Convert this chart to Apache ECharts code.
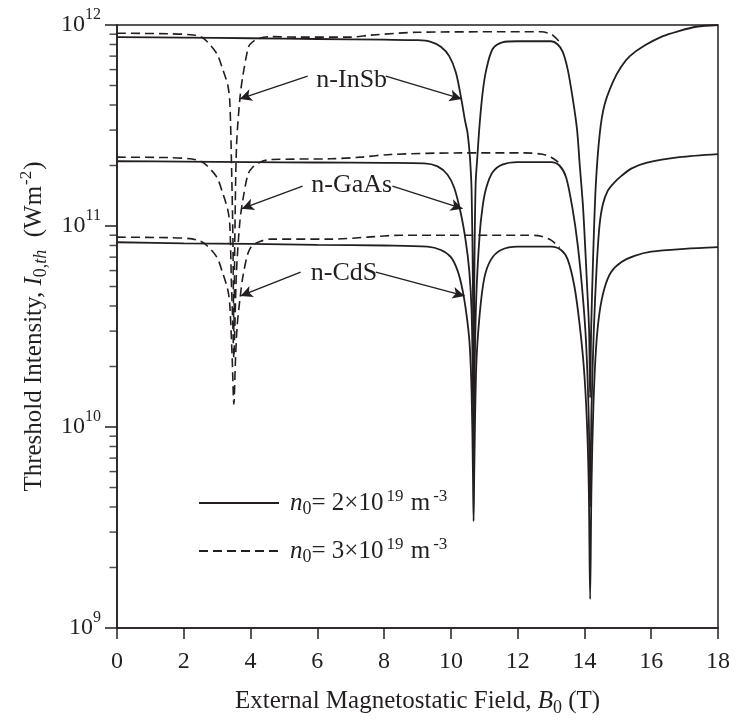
<!DOCTYPE html>
<html>
<head>
<meta charset="utf-8">
<title>Threshold intensity vs magnetostatic field</title>
<script src="https://cdn.jsdelivr.net/npm/echarts@6/dist/echarts.min.js"></script>
<style>
  html, body { margin: 0; padding: 0; background: #fff; }
  #main { width: 735px; height: 722px; }
</style>
</head>
<body>
<div id="main"></div>
<script>
// ---- data: [B0 (T), I0,th (W m^-2)] ----
var insbSolid = [
  [0, 8.71e11], [2, 8.65e11], [4, 8.59e11], [6, 8.52e11], [8, 8.45e11], [9, 8.4e11],
  [9.4, 8.25e11], [9.7, 7.8e11], [9.95, 7.0e11], [10.15, 5.8e11], [10.31, 4.3e11],
  [10.43, 3.3e11], [10.5, 2.9e11], [10.57, 2.2e11], [10.62, 1.5e11], [10.66, 5e10],
  [10.68, 1.1e10], [10.7, 5e10], [10.74, 1.6e11], [10.8, 2.3e11], [10.86, 3.2e11],
  [10.95, 4.6e11], [11.06, 6.0e11], [11.25, 7.6e11], [11.54, 8.2e11], [12, 8.3e11],
  [13, 8.3e11], [13.2, 8.0e11], [13.35, 7.35e11], [13.5, 6.0e11], [13.65, 4.3e11],
  [13.78, 3.0e11], [13.86, 2.0e11], [13.95, 1.3e11], [14.0, 9.3e10], [14.08, 5e10],
  [14.14, 3e10], [14.17, 1.4e10], [14.2, 3e10], [14.26, 7e10], [14.34, 1.6e11],
  [14.46, 2.9e11], [14.6, 4e11], [14.85, 5.2e11], [15.1, 6.2e11], [15.36, 7.0e11],
  [15.8, 7.9e11], [16.35, 8.8e11], [16.8, 9.3e11], [17.35, 9.8e11], [18, 1e12]
];
var gaasSolid = [
  [0, 2.1e11], [2, 2.09e11], [4, 2.08e11], [6, 2.07e11], [8, 2.06e11], [9.2, 2.05e11],
  [9.6, 1.98e11], [9.9, 1.8e11], [10.1, 1.55e11], [10.3, 1.15e11], [10.45, 8.3e10],
  [10.55, 6e10], [10.62, 3.8e10], [10.66, 1.5e10], [10.68, 6e9], [10.7, 1.5e10],
  [10.76, 4.4e10], [10.86, 9e10], [10.95, 1.25e11], [11.06, 1.55e11], [11.25, 1.85e11],
  [11.54, 2.02e11], [12, 2.08e11], [13, 2.08e11], [13.25, 2.0e11], [13.45, 1.75e11],
  [13.65, 1.2e11], [13.8, 8e10], [13.95, 4.5e10], [14.05, 2.6e10], [14.13, 1.1e10],
  [14.17, 4e9], [14.21, 1.2e10], [14.28, 3e10], [14.36, 6e10], [14.45, 1.0e11],
  [14.55, 1.28e11], [14.7, 1.5e11], [14.9, 1.65e11], [15.1, 1.77e11], [15.4, 1.93e11],
  [15.85, 2.06e11], [16.84, 2.2e11], [18, 2.28e11]
];
var cdsSolid = [
  [0, 8.3e10], [2, 8.2e10], [4, 8.15e10], [6, 8.05e10], [8, 8.0e10], [9.3, 7.9e10],
  [9.7, 7.6e10], [10.0, 7.0e10], [10.2, 6.0e10], [10.35, 4.8e10], [10.47, 3.6e10],
  [10.56, 2.6e10], [10.62, 1.5e10], [10.66, 6e9], [10.68, 3.4e9], [10.7, 6e9],
  [10.76, 2e10], [10.86, 3.6e10], [11.0, 5.5e10], [11.2, 6.8e10], [11.5, 7.6e10],
  [12, 7.9e10], [13, 7.9e10], [13.3, 7.6e10], [13.5, 6.8e10], [13.7, 5.0e10],
  [13.85, 3.3e10], [13.98, 2.0e10], [14.07, 1.1e10], [14.13, 5e9], [14.17, 1.39e9],
  [14.21, 5e9], [14.27, 1.3e10], [14.35, 2.5e10], [14.45, 3.7e10], [14.6, 4.9e10],
  [14.8, 5.9e10], [15.1, 6.6e10], [15.5, 7.1e10], [16, 7.45e10], [17, 7.7e10],
  [18, 7.85e10]
];
var insbDash = [
  [0, 9.1e11], [1.5, 9.05e11], [2.2, 8.95e11], [2.5, 8.75e11], [2.69, 8.3e11],
  [2.99, 7.2e11], [3.17, 6.0e11], [3.32, 5.0e11], [3.38, 4.1e11], [3.43, 2e11],
  [3.47, 9e10], [3.5, 3e10], [3.53, 9e10], [3.58, 2.5e11], [3.68, 4.3e11],
  [3.77, 5.6e11], [3.92, 7.6e11], [3.98, 8.0e11], [4.19, 8.5e11], [4.58, 8.75e11],
  [5.5, 8.7e11], [7.0, 8.7e11], [7.6, 8.9e11], [9, 9.2e11], [11.5, 9.25e11],
  [12.7, 9.25e11], [13.0, 9.0e11], [13.15, 8.6e11], [13.26, 8.2e11]
];
var gaasDash = [
  [0, 2.2e11], [1.5, 2.19e11], [2.2, 2.16e11], [2.5, 2.1e11], [2.69, 2.0e11],
  [2.99, 1.75e11], [3.17, 1.45e11], [3.32, 1.2e11], [3.38, 1.0e11], [3.43, 5e10],
  [3.47, 3.2e10], [3.5, 2.2e10], [3.53, 3.2e10], [3.58, 6e10], [3.68, 1.05e11],
  [3.77, 1.35e11], [3.92, 1.8e11], [4.05, 1.95e11], [4.3, 2.08e11], [4.6, 2.14e11],
  [6.4, 2.16e11], [7.3, 2.2e11], [8.2, 2.27e11], [10.3, 2.31e11], [12.2, 2.31e11],
  [12.7, 2.28e11], [13.0, 2.2e11], [13.26, 2.05e11]
];
var cdsDash = [
  [0, 8.8e10], [1.5, 8.75e10], [2.2, 8.65e10], [2.5, 8.4e10], [2.69, 8.0e10],
  [2.99, 7.0e10], [3.17, 5.8e10], [3.32, 4.8e10], [3.38, 4.0e10], [3.45, 2.2e10],
  [3.5, 1.3e10], [3.55, 2.2e10], [3.6, 3.2e10], [3.68, 4.3e10], [3.77, 5.6e10],
  [3.92, 7.3e10], [4.05, 8.0e10], [4.3, 8.4e10], [4.6, 8.6e10], [6.4, 8.6e10],
  [7.5, 8.8e10], [8.5, 9.0e10], [12.2, 9.0e10], [12.7, 8.9e10], [13.0, 8.5e10],
  [13.26, 7.8e10]
];
// minor ticks on the log axis (2..9 of each decade)
var minorTicks = [
  2e9, 3e9, 4e9, 5e9, 6e9, 7e9, 8e9, 9e9,
  2e10, 3e10, 4e10, 5e10, 6e10, 7e10, 8e10, 9e10,
  2e11, 3e11, 4e11, 5e11, 6e11, 7e11, 8e11, 9e11
];
// annotation labels and arrows [from, to]
var materials = ['n-InSb', 'n-GaAs', 'n-CdS'];
var labelPos = [[7.03, 5.3e11], [7.03, 1.6e11], [6.8, 5.85e10]];
var arrows = [
  [[5.71, 5.57e11], [3.68, 4.29e11]], [[8.05, 5.57e11], [10.32, 4.29e11]],
  [[5.56, 1.58e11], [3.74, 1.22e11]], [[8.25, 1.58e11], [10.35, 1.22e11]],
  [[5.5, 5.9e10], [3.7, 4.49e10]], [[7.75, 5.9e10], [10.41, 4.49e10]]
];
var nameA = 'n0 = 2e19';
var nameB = 'n0 = 3e19';

var ink = '#231f20';
var serif = 'Liberation Serif';

var myChart = echarts.init(document.getElementById('main'));

function solid(data) {
  return {
    name: nameA, type: 'line', data: data, symbol: 'none', smooth: 0.3,
    lineStyle: { color: ink, width: 1.8, type: 'solid' }, itemStyle: { color: ink }, z: 3
  };
}
function dashed(data) {
  return {
    name: nameB, type: 'line', data: data, symbol: 'none', smooth: 0.3,
    lineStyle: { color: ink, width: 1.6, type: [9, 5] }, itemStyle: { color: ink }, z: 3
  };
}

var s0 = solid(insbSolid);
s0.markLine = {
  silent: true, symbol: ['none', 'arrow'], symbolSize: [9, 12],
  lineStyle: { color: ink, width: 1.4, type: 'solid' },
  label: { show: false },
  data: arrows.map(function (a) { return [{ coord: a[0] }, { coord: a[1] }]; })
};
s0.markPoint = {
  silent: true, symbol: 'rect', symbolSize: 1, itemStyle: { color: 'rgba(0,0,0,0)' },
  label: { show: true, position: 'inside', formatter: '{b}', color: ink, fontFamily: serif, fontSize: 26 },
  data: materials.map(function (m, i) { return { name: m, coord: labelPos[i] }; })
};

var option = {
  animation: false,
  backgroundColor: '#fff',
  textStyle: { fontFamily: serif, color: ink },
  grid: { left: 117, right: 17, top: 25, bottom: 92, show: true, borderColor: ink, borderWidth: 1.5 },
  legend: {
    data: [nameA, nameB], orient: 'vertical', left: 193, top: 483, itemWidth: 80, itemHeight: 14,
    itemGap: 18, selectedMode: false,
    itemStyle: { opacity: 0 },
    formatter: function (n) {
      var k = n === nameA ? '2' : '3';
      return '{sp2| }{i|n}{sb|0}{t|= ' + k + '×10}{sp|19}{t| m}{sp|-3}';
    },
    textStyle: {
      color: ink, fontFamily: serif, fontSize: 25, lineHeight: 30,
      rich: {
        sp2: { fontSize: 10, width: 6 },
        i: { fontFamily: serif, fontStyle: 'italic', fontSize: 25, color: ink },
        sb: { fontFamily: serif, fontSize: 18, color: ink, verticalAlign: 'bottom', lineHeight: 17 },
        t: { fontFamily: serif, fontSize: 25, color: ink },
        sp: { fontFamily: serif, fontSize: 17, color: ink, verticalAlign: 'top', lineHeight: 15, padding: [0, 1, 0, 3] }
      }
    }
  },
  xAxis: {
    type: 'value', min: 0, max: 18, interval: 2,
    name: '{t|External Magnetostatic Field, }{i|B}{sb|0}{t| (T)}',
    nameLocation: 'middle', nameGap: 57,
    nameTextStyle: {
      rich: {
        t: { fontFamily: serif, fontSize: 25, color: ink },
        i: { fontFamily: serif, fontSize: 25, fontStyle: 'italic', color: ink },
        sb: { fontFamily: serif, fontSize: 18, color: ink, verticalAlign: 'bottom', lineHeight: 16 }
      },
      lineHeight: 32
    },
    axisLine: { show: true, onZero: false, lineStyle: { color: ink, width: 1.5 } },
    axisTick: { show: true, length: 11, lineStyle: { color: ink, width: 1.5 } },
    axisLabel: { color: ink, fontFamily: serif, fontSize: 24, margin: 22 },
    splitLine: { show: false }
  },
  yAxis: {
    type: 'log', logBase: 10, min: 1e9, max: 1e12,
    name: '{t|Threshold Intensity, }{i|I}{sb|0,}{sbi|th}{t|  (Wm}{sp|-2}{t|)}',
    nameLocation: 'middle', nameGap: 64, nameRotate: 90,
    nameTextStyle: {
      rich: {
        t: { fontFamily: serif, fontSize: 25, color: ink },
        i: { fontFamily: serif, fontSize: 25, fontStyle: 'italic', color: ink },
        sb: { fontFamily: serif, fontSize: 18, color: ink, verticalAlign: 'bottom', lineHeight: 16 },
        sbi: { fontFamily: serif, fontSize: 18, fontStyle: 'italic', color: ink, verticalAlign: 'bottom', lineHeight: 16 },
        sp: { fontFamily: serif, fontSize: 17, color: ink, verticalAlign: 'top', lineHeight: 15, padding: [0, 1, 0, 1] }
      },
      lineHeight: 32
    },
    axisLine: { show: true, lineStyle: { color: ink, width: 1.5 } },
    axisTick: { show: true, length: 12, lineStyle: { color: ink, width: 1.5 } },
    axisLabel: {
      margin: 16,
      formatter: function (v) {
        return '{b|10}{p|' + Math.round(Math.log10(v)) + '}';
      },
      rich: {
        b: { fontFamily: serif, fontSize: 24, color: ink, lineHeight: 36 },
        p: { fontFamily: serif, fontSize: 16, color: ink, verticalAlign: 'top', lineHeight: 15 }
      }
    },
    splitLine: { show: false }
  },
  series: [
    s0, solid(gaasSolid), solid(cdsSolid),
    dashed(insbDash), dashed(gaasDash), dashed(cdsDash),
    {
      name: 'minor', type: 'scatter', silent: true, clip: false, z: 5,
      symbol: 'rect', symbolSize: [7, 1.5], symbolOffset: [-4, 0],
      itemStyle: { color: ink },
      data: minorTicks.map(function (v) { return [0, v]; })
    }
  ]
};
myChart.setOption(option);
</script>
</body>
</html>
